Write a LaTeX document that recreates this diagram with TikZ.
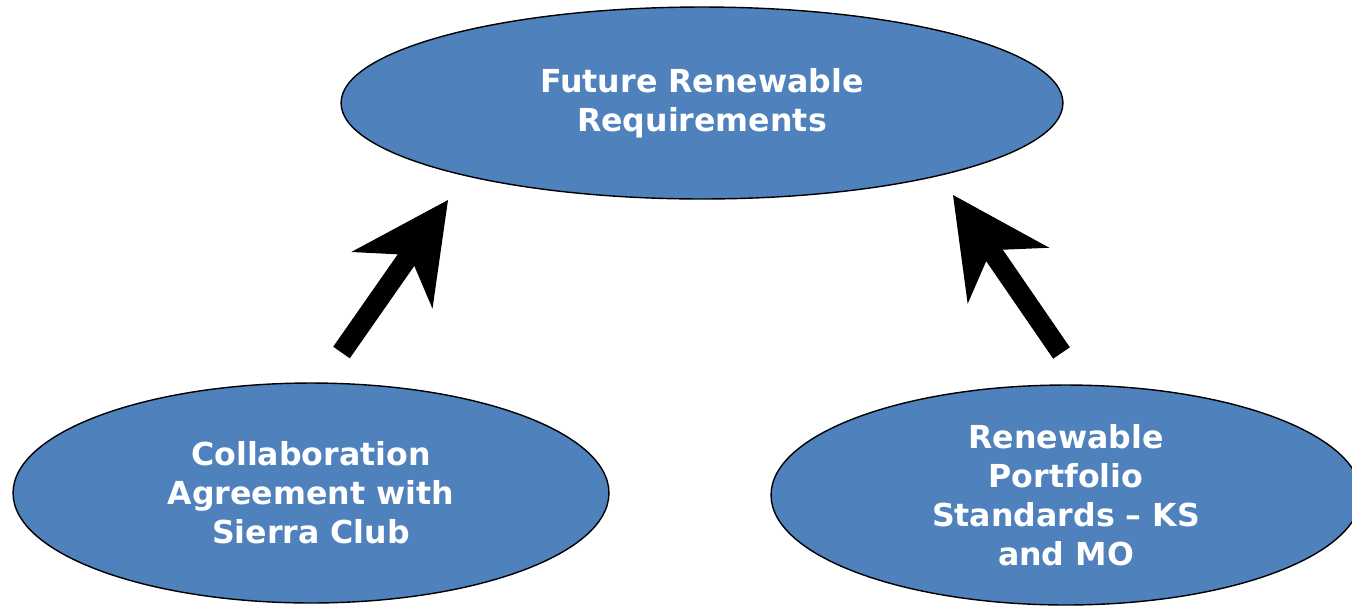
\documentclass[tikz,border=0pt]{standalone}
\usepackage{fontspec}
\setsansfont{DejaVu Sans}
\usepackage{tikz}
\usetikzlibrary{arrows.meta,shapes.geometric}
\definecolor{bubbleFill}{HTML}{4F81BD}
\colorlet{bubbleStroke}{black}
\colorlet{arrowColor}{black}

\begin{document}
\begin{tikzpicture}[
  x=0.02cm, y=-0.02cm,
  bubble/.style  = {ellipse, draw=bubbleStroke, line width=0.8pt, fill=bubbleFill,
                    inner sep=0pt, align=center, text=white,
                    font=\sffamily\bfseries\fontsize{18}{22.2}\selectfont},
  bigarr/.style  = {arrowColor, line width=11.5pt,
                    -{Stealth[length=1.96cm, width=1.98cm, inset=0.62cm, line width=0pt]}},
]
\useasboundingbox (0,0) rectangle (1352,606);

% ----------------------------------------------------------------
% Ellipses
% ----------------------------------------------------------------
\node[bubble, minimum width=14.44cm, minimum height=3.84cm]
  (future) at (702,103) {Future Renewable\\Requirements};

\node[bubble, minimum width=11.92cm, minimum height=4.4cm]
  (sierra) at (311,493) {Collaboration\\Agreement with\\Sierra Club};

\node[bubble, minimum width=11.8cm, minimum height=4.4cm]
  (rps) at (1066,495) {Renewable\\Portfolio\\Standards -- KS\\and MO};

% ----------------------------------------------------------------
% Arrows
% ----------------------------------------------------------------
\coordinate (sierraOut) at (341.5,352.5);
\coordinate (futureInL) at (448,200);
\coordinate (rpsOut)    at (1061.5,353);
\coordinate (futureInR) at (953,195);

\draw[bigarr] (sierraOut) -- (futureInL);
\draw[bigarr] (rpsOut) -- (futureInR);

\end{tikzpicture}
\end{document}
